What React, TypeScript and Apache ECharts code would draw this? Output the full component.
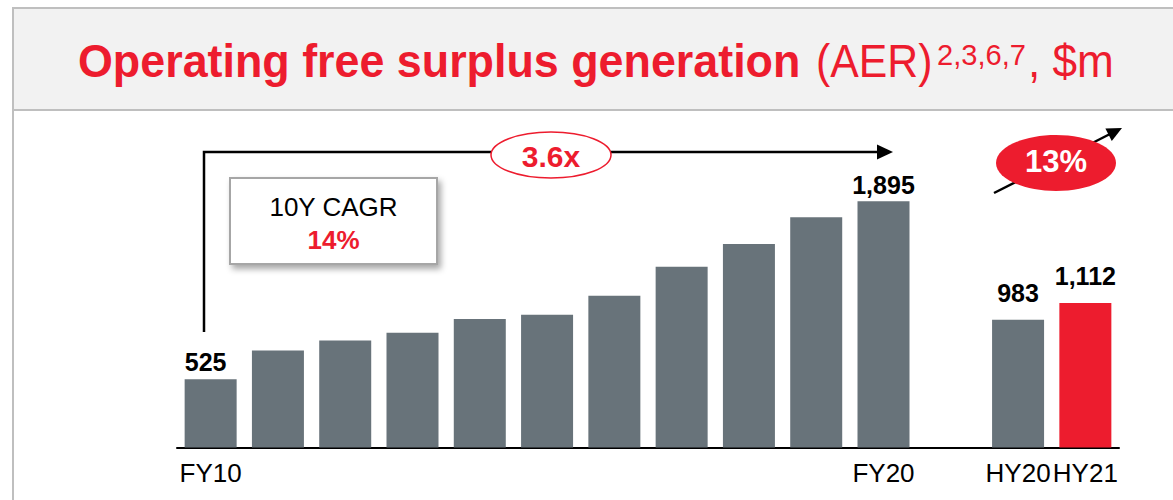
import React, { useEffect, useRef } from "react";
import * as echarts from "echarts";

const categories = ["FY10", "FY11", "FY12", "FY13", "FY14", "FY15", "FY16", "FY17", "FY18", "FY19", "FY20", "", "HY20", "HY21"];
const fyValues = [525, 746, 823, 883, 988, 1022, 1168, 1390, 1566, 1772, 1895];
const hyValues = [983, 1112];
const shownAxisLabels = ["FY10", "FY20", "HY20", "HY21"];
const labelledValues = ["FY10", "FY20", "HY20", "HY21"];

const RED = "#ed1c2e";
const GREY = "#68737a";
const FONT = "'Liberation Sans', Arial, sans-serif";

export default function App() {
  const ref = useRef<HTMLDivElement>(null);

  useEffect(() => {
    if (!ref.current) return;
    const chart = echarts.init(ref.current, undefined, { renderer: "svg" });

    const values: (number | null)[] = [...fyValues, null, ...hyValues];
    const data = values.map((v, i) => {
      const cat = categories[i];
      const isHY21 = cat === "HY21";
      const isHY = cat.startsWith("HY");
      const showLabel = labelledValues.includes(cat);
      return {
        value: v,
        itemStyle: { color: isHY21 ? RED : GREY },
        label: {
          show: showLabel,
          position: "top",
          distance: isHY ? 14 : cat === "FY10" ? 5 : 4,
          offset: cat === "FY10" ? [-5, 0] : [0, 0],
          formatter: (p: any) => Number(p.value).toLocaleString("en-US"),
          fontFamily: FONT,
          fontSize: 25,
          fontWeight: "bold",
          color: "#000",
        },
      };
    });

    const titleMid = 61;
    chart.setOption({
      animation: false,
      grid: { left: 177, right: 54, top: 187.5, bottom: 52.5, containLabel: false },
      xAxis: {
        type: "category",
        data: categories,
        axisLine: { show: true, lineStyle: { color: "#000", width: 2 } },
        axisTick: { show: false },
        axisLabel: {
          interval: 0,
          margin: 12,
          fontFamily: FONT,
          fontSize: 26,
          color: "#000",
          formatter: (v: string) => (shownAxisLabels.includes(v) ? v : ""),
        },
      },
      yAxis: { type: "value", min: 0, max: 2000, show: false, splitLine: { show: false } },
      series: [
        {
          type: "bar",
          data,
          barWidth: 52,
          barGap: "0%",
        },
      ],
      graphic: [
        // title band
        {
          type: "rect",
          shape: { x: 13, y: 8, width: 1170, height: 102 },
          style: { fill: "#f2f2f2", stroke: "#bfbfbf", lineWidth: 2 },
          z: 0,
        },
        {
          type: "line",
          shape: { x1: 13, y1: 110, x2: 13, y2: 500 },
          style: { stroke: "#bfbfbf", lineWidth: 2 },
        },
        {
          type: "text",
          x: 78,
          y: titleMid,
          scaleX: 0.975,
          style: { text: "Operating free surplus generation", font: `bold 46px ${FONT}`, fill: RED, align: "left", verticalAlign: "middle" },
        },
        {
          type: "text",
          x: 816,
          y: titleMid,
          scaleX: 0.93,
          style: { text: "(AER)", font: `46px ${FONT}`, fill: RED, align: "left", verticalAlign: "middle" },
        },
        {
          type: "text",
          x: 937,
          y: 54,
          scaleX: 0.97,
          style: { text: "2,3,6,7", font: `30px ${FONT}`, fill: RED, align: "left", verticalAlign: "middle" },
        },
        {
          type: "text",
          x: 1028,
          y: titleMid,
          scaleX: 0.96,
          style: { text: ", $m", font: `46px ${FONT}`, fill: RED, align: "left", verticalAlign: "middle" },
        },
        // 10Y arrow
        {
          type: "polyline",
          shape: { points: [[204, 332], [204, 152], [880, 152]] },
          style: { stroke: "#000", lineWidth: 2.5, fill: null },
        },
        {
          type: "polygon",
          shape: { points: [[877, 144.5], [893, 152], [877, 159.5]] },
          style: { fill: "#000" },
        },
        {
          type: "ellipse",
          shape: { cx: 551, cy: 155, rx: 60, ry: 23 },
          style: { fill: "#fff", stroke: RED, lineWidth: 1.5 },
        },
        {
          type: "text",
          x: 551,
          y: 156,
          style: { text: "3.6x", font: `bold 30px ${FONT}`, fill: RED, align: "center", verticalAlign: "middle" },
        },
        // CAGR box
        {
          type: "rect",
          shape: { x: 230, y: 178, width: 207, height: 86 },
          style: {
            fill: "#fff",
            stroke: "#a6a6a6",
            lineWidth: 2,
            shadowBlur: 6,
            shadowOffsetX: 3,
            shadowOffsetY: 4,
            shadowColor: "rgba(0,0,0,0.35)",
          },
        },
        {
          type: "text",
          x: 333.5,
          y: 207,
          style: { text: "10Y CAGR", font: `26px ${FONT}`, fill: "#000", align: "center", verticalAlign: "middle" },
        },
        {
          type: "text",
          x: 333.5,
          y: 240,
          style: { text: "14%", font: `bold 26px ${FONT}`, fill: RED, align: "center", verticalAlign: "middle" },
        },
        // HY arrow
        {
          type: "line",
          shape: { x1: 994, y1: 193, x2: 1110, y2: 134 },
          style: { stroke: "#000", lineWidth: 2.5 },
        },
        {
          type: "polygon",
          shape: { points: [[1122, 128], [1111.8, 141], [1105.4, 128.6]] },
          style: { fill: "#000" },
        },
        {
          type: "ellipse",
          shape: { cx: 1056, cy: 163, rx: 60, ry: 28 },
          style: { fill: RED },
        },
        {
          type: "text",
          x: 1056,
          y: 161,
          style: { text: "13%", font: `bold 31px ${FONT}`, fill: "#fff", align: "center", verticalAlign: "middle" },
        },
      ],
    });

    return () => chart.dispose();
  }, []);

  return <div ref={ref} style={{ position: "fixed", left: 0, top: 0, width: 1173, height: 500, background: "#fff" }} />;
}
